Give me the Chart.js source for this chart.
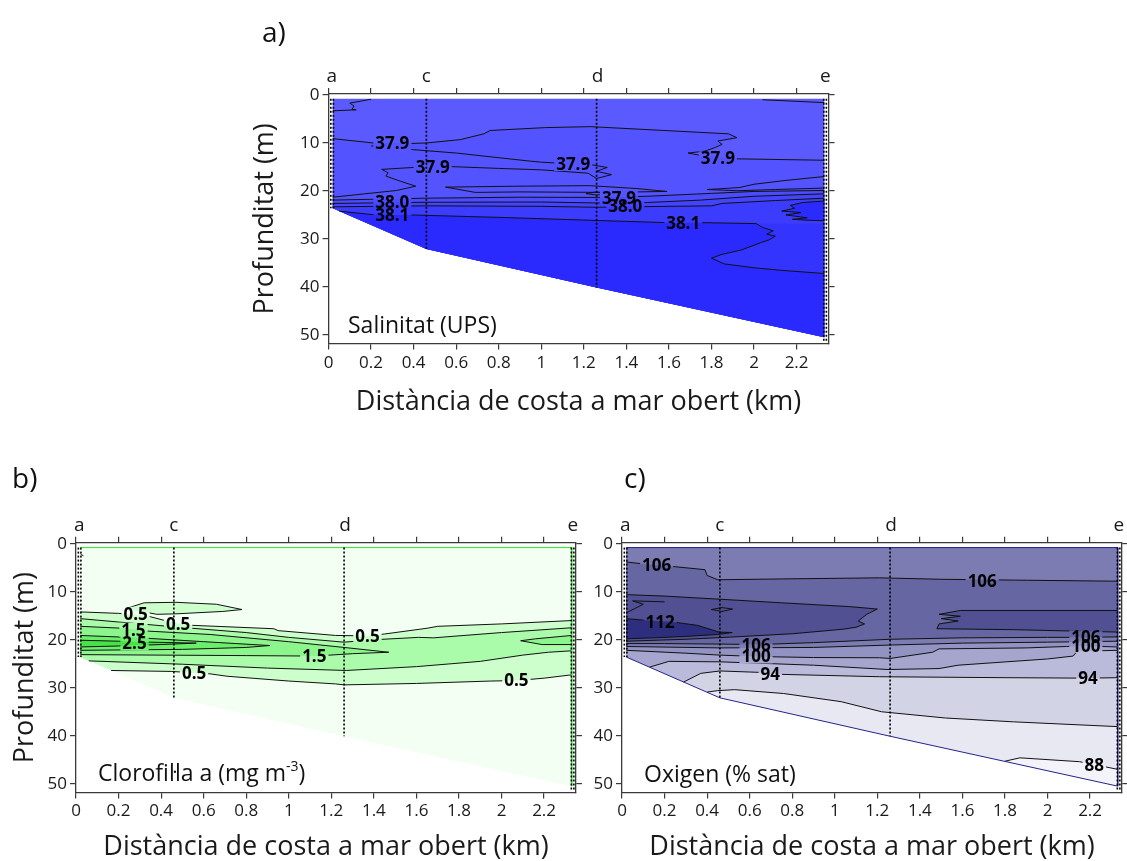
<!DOCTYPE html>
<html lang="ca">
<head>
<meta charset="utf-8">
<title>Seccions de costa a mar obert</title>
<script src="https://cdn.jsdelivr.net/npm/chart.js@4.4.1/dist/chart.umd.min.js"></script>
<style>
  html, body { margin: 0; padding: 0; background: #fff; }
  body { width: 1127px; height: 861px; position: relative; overflow: hidden; font-family: 'Open Sans', sans-serif; color: #111; }
  canvas { position: absolute; }
  .lletra { position: absolute; font-size: 28px; line-height: 28px; z-index: 2; }
  .variable { position: absolute; font-size: 23px; line-height: 23px; white-space: nowrap; z-index: 2; }
  .variable sup { font-size: 14px; line-height: 0; vertical-align: 10px; }
</style>
</head>
<body>
<canvas id="gSal" width="620" height="390" style="left:230px; top:41px"></canvas>
<canvas id="gClo" width="590" height="373" style="left:0px; top:488px"></canvas>
<canvas id="gOxi" width="547" height="373" style="left:580px; top:488px"></canvas>

<div class="lletra" style="left:262px; top:17px">a)</div>
<div class="lletra" style="left:12px; top:463px">b)</div>
<div class="lletra" style="left:624px; top:463px">c)</div>
<div class="variable" style="left:348px; top:313px">Salinitat (UPS)</div>
<div class="variable" style="left:98px; top:761px">Clorofil·la a (mg m<sup>-3</sup>)</div>
<div class="variable" style="left:644px; top:762px">Oxigen (% sat)</div>

<script>
// --- eixos ---
const xTicks = [0, 0.2, 0.4, 0.6, 0.8, 1, 1.2, 1.4, 1.6, 1.8, 2, 2.2];
const yTicks = [0, 10, 20, 30, 40, 50];
const xMax = 2.35, yMin = -0.2, yMax = 51.8;
const estacions = ['a', 'c', 'd', 'e'];
const estacionsX = [0.015, 0.46, 1.265, 2.335];

// --- perfils (CTD) i fons marí ---
const perfilsX = [0.011, 0.023, 0.46, 1.26, 2.328, 2.34];
const perfilsFons = [23.6, 23.6, 32.1, 40.1, 51.6, 51.6];
const fonsX = [0.02, 0.46, 1.26, 2.33];
const fonsProf = [23.6, 32.1, 40.1, 50.5];
const superficie = 0.8;

// --- salinitat: isolínies [distància km, profunditat m] ---
const sal_a1 = [[0.20,0.9],[0.10,1.7],[0.12,2.3],[0.11,3.0],[0.13,3.1],[0.02,3.3]];
const sal_a2 = [[2.04,1.0],[2.33,1.6]];
const sal_379a = [[0.02,9.1],[0.21,10.0],[0.39,10.1],[0.46,10.0],[0.62,9.3],[0.73,8.1],[0.76,7.4],[1.02,6.8],[1.23,6.6],[1.88,8.1],[1.92,8.9],[1.83,9.6],[1.85,10.3],[1.82,10.9],[1.77,11.7],[1.69,12.1],[1.75,12.6],[1.91,13.3],[2.33,13.6]];
const sal_379b = [[0.20,10.6],[0.40,11.4],[0.60,12.1],[0.95,13.8],[1.00,14.0],[1.16,14.4],[1.23,14.5],[1.31,15.1],[1.26,15.9],[1.33,16.6],[1.26,17.4],[1.22,16.3],[1.00,15.6],[0.80,15.3],[0.56,14.9],[0.40,15.1],[0.25,15.5],[0.28,16.2],[0.27,16.9],[0.34,18.0],[0.41,19.0],[0.32,19.9],[0.17,20.6],[0.02,21.3]];
const sal_379c = [[0.55,19.2],[0.90,19.0],[1.23,18.9],[1.45,19.5],[1.59,20.1],[1.30,20.3],[0.90,20.2],[0.69,20.3],[0.55,19.2]];
const sal_379d = [[1.21,20.55],[1.26,20.2],[1.31,20.55],[1.26,20.85],[1.21,20.55]];
const sal_379e = [[2.33,17.0],[2.15,17.8],[2.00,18.6],[1.93,19.3],[1.78,19.7],[1.92,19.95],[2.10,19.7],[2.33,19.4]];
const sal_379f = [[0.02,21.9],[0.46,21.5],[0.90,21.3],[1.26,21.35],[1.50,21.1],[1.80,20.5],[2.00,20.1],[2.33,19.9]];
const sal_380a = [[0.02,22.6],[0.46,22.35],[1.00,22.3],[1.26,22.5],[1.50,22.4],[1.75,21.9],[2.00,21.1],[2.33,20.6]];
const sal_380b = [[0.02,23.3],[0.46,23.1],[1.00,23.2],[1.26,23.4],[1.60,23.2],[1.80,23.1],[1.85,22.6],[2.10,22.0],[2.33,21.5]];
const sal_381a = [[0.05,24.2],[0.20,24.9],[0.39,25.0],[0.80,25.5],[1.23,26.1],[1.59,26.6],[1.76,26.6],[2.01,26.8],[2.04,27.6],[2.09,28.3],[2.06,29.0],[2.10,29.4],[2.07,30.2],[2.03,30.8],[1.94,32.3],[1.85,33.2],[1.80,34.0],[1.86,35.2],[2.00,36.0],[2.12,36.5],[2.33,37.2]];
const sal_381b = [[2.33,22.1],[2.23,22.4],[2.17,23.0],[2.19,23.6],[2.13,24.2],[2.22,24.5],[2.15,25.0],[2.25,25.6],[2.18,25.9],[2.25,26.1],[2.33,26.2]];
const salEtiq = ['37.9', '37.9', '37.9', '37.9', '37.9', '38.0', '38.0', '38.1', '38.1'];
const salEtiqX = [0.30, 0.49, 1.15, 1.83, 1.365, 0.30, 1.395, 0.30, 1.667];
const salEtiqProf = [10.0, 15.0, 14.4, 13.2, 21.4, 22.4, 23.1, 24.95, 26.8];

// --- clorofil·la a ---
const clo_05a = [[0.02,14.2],[0.20,14.5],[0.34,15.1],[0.41,15.9],[0.48,16.6],[0.55,17.0],[0.93,17.7],[0.95,18.1],[1.22,19.1],[1.37,19.2],[1.45,18.8],[1.65,17.6],[1.70,17.2],[2.00,16.7],[2.33,16.0]];
const clo_05b = [[0.235,13.5],[0.32,12.3],[0.47,12.2],[0.66,12.6],[0.78,13.7],[0.69,14.1],[0.47,14.6],[0.38,14.7],[0.235,13.5]];
const clo_05c = [[0.165,26.4],[0.45,26.6],[0.63,27.1],[0.71,27.6],[1.00,28.6],[1.22,29.2],[1.26,29.4],[1.60,29.1],[1.95,28.6],[2.07,28.5],[2.20,28.0],[2.33,27.3]];
const clo_10a = [[0.02,15.6],[0.20,16.3],[0.46,17.3],[0.80,18.5],[1.00,19.5],[1.26,20.5],[1.40,20.0],[1.61,19.5],[1.68,19.6],[2.00,18.5],[2.33,17.5]];
const clo_10b = [[0.06,24.4],[0.50,25.1],[0.90,25.9],[1.27,26.4],[1.60,25.6],[1.90,24.5],[2.10,23.2],[2.22,22.6],[2.33,22.3]];
const clo_15a = [[0.02,17.2],[0.22,17.6],[0.34,18.2],[0.63,18.9],[1.00,20.4],[1.26,21.6],[1.47,22.6],[1.30,22.9],[1.12,23.4],[0.80,23.3],[0.40,23.2],[0.02,23.1]];
const clo_15b = [[2.33,19.1],[2.16,19.8],[2.09,20.2],[2.19,21.0],[2.33,21.0]];
const clo_20 = [[0.02,19.1],[0.30,19.6],[0.60,20.4],[0.91,21.2],[0.80,21.6],[0.50,22.0],[0.02,22.2]];
const clo_25 = [[0.02,20.1],[0.20,20.3],[0.35,20.5],[0.565,20.7],[0.40,21.0],[0.20,21.3],[0.02,21.5]];
const clo_taca = [[0.022,2.2],[0.035,2.5]];
const cloEtiq = ['0.5', '0.5', '0.5', '1.5', '2.5', '1.5', '0.5', '0.5'];
const cloEtiqX = [0.28, 0.48, 1.37, 0.27, 0.275, 1.12, 0.555, 2.07];
const cloEtiqProf = [14.6, 16.7, 19.2, 17.9, 20.8, 23.4, 26.9, 28.5];

// --- oxigen (% saturació) ---
const oxi_106a = [[0.02,3.8],[0.10,4.2],[0.23,4.7],[0.39,5.4],[0.40,6.6],[0.45,7.5],[0.80,7.3],[1.21,7.1],[1.50,7.4],[1.90,7.6],[2.33,7.8]];
const oxi_109a = [[0.02,10.6],[0.20,10.9],[0.44,11.5],[0.75,12.3],[1.07,13.1],[1.20,13.6],[1.15,14.7],[1.13,15.4],[1.11,16.1],[1.14,16.7],[1.10,17.4],[1.04,17.8],[0.80,18.75],[0.51,19.45],[0.30,19.9],[0.02,20.3]];
const oxi_109b = [[2.33,13.9],[1.59,13.9],[1.49,14.7],[1.59,15.1],[1.50,15.6],[1.58,16.1],[1.49,16.7],[1.48,17.7],[1.84,17.9],[2.33,18.4]];
const oxi_109c = [[0.20,12.1],[0.05,11.9],[0.10,12.6],[0.06,13.5],[0.02,14.4]];
const oxi_109d = [[0.42,13.7],[0.47,13.3],[0.52,13.6],[0.47,14.1],[0.42,13.7]];
const oxi_112 = [[0.02,15.6],[0.10,15.9],[0.24,16.3],[0.355,17.0],[0.456,18.4],[0.518,18.5],[0.45,18.9],[0.30,19.3],[0.15,19.6],[0.02,19.8]];
const oxi_106b = [[0.02,20.8],[0.20,20.8],[0.46,20.9],[0.64,21.0],[0.90,20.6],[1.26,19.9],[1.60,19.6],[2.00,19.5],[2.18,19.5],[2.33,19.4]];
const oxi_103 = [[0.02,21.4],[0.46,21.7],[0.90,21.6],[1.26,21.1],[1.60,20.7],[2.00,20.5],[2.33,20.3]];
const oxi_100 = [[0.02,22.2],[0.30,22.8],[0.46,23.2],[0.64,23.5],[0.90,23.7],[1.21,23.75],[1.26,23.9],[1.46,22.6],[1.49,21.9],[1.90,21.7],[2.09,21.4],[2.18,21.3],[2.33,21.5]];
const oxi_097 = [[0.13,25.7],[0.22,24.5],[0.46,24.6],[0.90,25.3],[1.25,26.2],[1.49,26.0],[1.58,25.3],[2.00,24.0],[2.12,23.4],[2.14,22.4],[2.33,22.2]];
const oxi_094 = [[0.29,28.8],[0.37,27.0],[0.46,26.5],[0.65,26.8],[0.74,27.2],[1.21,27.7],[1.80,27.9],[2.19,28.0],[2.33,27.9]];
const oxi_091 = [[0.40,30.9],[0.45,30.6],[0.53,30.4],[0.76,31.2],[1.03,32.9],[1.22,35.0],[1.52,36.3],[1.84,37.1],[2.33,38.1]];
const oxi_088 = [[1.80,45.3],[1.87,44.6],[2.15,45.4],[2.22,46.0],[2.33,47.0]];
const oxiEtiq = ['106', '106', '112', '106', '100', '94', '106', '100', '94', '88'];
const oxiEtiqX = [0.163, 1.693, 0.179, 0.63, 0.63, 0.697, 2.18, 2.18, 2.19, 2.22];
const oxiEtiqProf = [4.4, 7.7, 16.3, 21.1, 23.5, 27.1, 19.5, 21.3, 28.0, 46.1];

// ---------------------------------------------------------------
Chart.defaults.font.family = "'Open Sans', sans-serif";
Chart.defaults.color = '#1a1a1a';
Chart.defaults.animation = false;

const fontEtiq = "bold 17px 'Open Sans', sans-serif";
const pts = a => a.map(([x, y]) => ({x, y}));
const fons = fonsX.map((x, i) => [x, fonsProf[i]]);
const regio = [[fonsX[0], superficie], [fonsX[3], superficie]].concat(fons.slice().reverse());
// polígons a partir de les isolínies
const entre = (a, b) => a.concat(b.slice().reverse());
const entreFons = (a, b) => a.concat(b.slice().reverse(), fons.filter(p => p[0] < b[0][0]).reverse());
const sota = l => l.concat(fons.filter(p => p[0] >= l[0][0]).reverse());
const sobre = l => [[fonsX[0], superficie], [fonsX[3], superficie]].concat(l.slice().reverse(), fons.filter(p => p[0] < l[0][0]).reverse());
const vora = [[fonsX[0], superficie], [fonsX[3], superficie], [fonsX[3], fonsProf[3]]];

// omple cada polígon amb les posicions calculades per Chart.js
const polyFill = {
  id: 'polyFill',
  beforeDatasetDraw(chart, args) {
    const ds = chart.data.datasets[args.index];
    if (!ds.colorFons) return;
    const ctx = chart.ctx;
    ctx.save();
    ctx.beginPath();
    args.meta.data.forEach((p, i) => i ? ctx.lineTo(p.x, p.y) : ctx.moveTo(p.x, p.y));
    ctx.closePath();
    ctx.fillStyle = ds.colorFons;
    ctx.fill();
    ctx.restore();
  }
};

// etiquetes de les isolínies, amb un tall a la línia
function pluginEtiquetes(textos, xs, ys) {
  const caixes = chart => {
    const ctx = chart.ctx;
    ctx.font = fontEtiq;
    return textos.map((t, i) => ({
      t,
      w: ctx.measureText(t).width + 4,
      cx: chart.scales.x.getPixelForValue(xs[i]),
      cy: chart.scales.y.getPixelForValue(ys[i])
    }));
  };
  return {
    id: 'etiquetes',
    beforeDatasetDraw(chart, args) {
      if (!chart.data.datasets[args.index].isolinia) return;
      const ctx = chart.ctx;
      ctx.save();
      caixes(chart).forEach(c => {
        ctx.beginPath();
        ctx.rect(0, 0, chart.width, chart.height);
        ctx.rect(c.cx - c.w / 2, c.cy - 7, c.w, 14);
        ctx.clip('evenodd');
      });
    },
    afterDatasetDraw(chart, args) {
      if (chart.data.datasets[args.index].isolinia) chart.ctx.restore();
    },
    afterDatasetsDraw(chart) {
      const ctx = chart.ctx;
      ctx.save();
      const cs = caixes(chart);
      ctx.fillStyle = '#000';
      ctx.textAlign = 'center';
      ctx.textBaseline = 'middle';
      cs.forEach(c => ctx.fillText(c.t, c.cx, c.cy + 1));
      ctx.restore();
    }
  };
}

function escales(m) {
  const eix = '#3a3a3a';
  const tick = {drawOnChartArea: false, tickLength: 6, color: eix, lineWidth: 1.2};
  return {
    x: {
      type: 'linear', position: 'bottom', min: 0, max: xMax,
      afterBuildTicks: s => { s.ticks = xTicks.map(v => ({value: v})); },
      afterFit: s => { s.height = m.baix; },
      ticks: {font: {size: 17}, padding: 3, maxRotation: 0, autoSkip: false, callback: v => String(v)},
      grid: tick,
      border: {color: eix, width: 1.3},
      title: {display: true, text: 'Distància de costa a mar obert (km)', font: {size: 27, lineHeight: 1}, padding: {top: 0, bottom: m.titolX}}
    },
    x2: {
      type: 'linear', axis: 'x', position: 'top', min: 0, max: xMax,
      afterBuildTicks: s => { s.ticks = xTicks.concat(estacionsX).map(v => ({value: v})); },
      afterFit: s => { s.height = m.dalt; },
      ticks: {font: {size: 19}, padding: 0, maxRotation: 0, autoSkip: false,
        callback: v => { const i = estacionsX.indexOf(v); return i >= 0 ? estacions[i] : ''; }},
      grid: {...tick, tickColor: c => (c.tick && estacionsX.includes(c.tick.value)) ? 'rgba(0,0,0,0)' : eix},
      border: {color: eix, width: 1.3}
    },
    y: {
      type: 'linear', position: 'left', reverse: true, min: yMin, max: yMax,
      afterBuildTicks: s => { s.ticks = yTicks.map(v => ({value: v})); },
      afterFit: s => { s.width = m.esq; },
      ticks: {font: {size: 17}, padding: 3},
      grid: tick,
      border: {color: eix, width: 1.3},
      title: {display: m.titolY !== null, text: 'Profunditat (m)', font: {size: 27, lineHeight: 1}, padding: {top: m.titolY || 0, bottom: 0}}
    },
    y2: {
      type: 'linear', axis: 'y', position: 'right', reverse: true, min: yMin, max: yMax,
      afterBuildTicks: s => { s.ticks = yTicks.map(v => ({value: v})); },
      afterFit: s => { s.width = m.dre; },
      ticks: {callback: () => ''},
      grid: tick,
      border: {color: eix, width: 1.3}
    }
  };
}

function crearGrafic(id, m, capes, linies, vores, etiq) {
  const datasets = [];
  capes.forEach(([pol, color], k) => datasets.push({
    data: pts(pol), colorFons: color, showLine: false, pointRadius: 0, order: 1000 - k
  }));
  linies.forEach(l => datasets.push({
    data: pts(l), isolinia: true, borderColor: '#111', borderWidth: 1, pointRadius: 0, order: 3
  }));
  vores.forEach(([l, color]) => datasets.push({
    data: pts(l), borderColor: color, borderWidth: 1, pointRadius: 0, order: 2
  }));
  perfilsX.forEach((x, i) => datasets.push({
    data: pts([[x, superficie], [x, perfilsFons[i]]]),
    borderColor: '#000', borderWidth: 1.6, borderDash: [2, 2], pointRadius: 0, order: 1
  }));
  return new Chart(document.getElementById(id), {
    type: 'line',
    data: {datasets},
    options: {
      responsive: false,
      events: [],
      layout: {padding: 0},
      plugins: {legend: {display: false}, tooltip: {enabled: false}},
      scales: escales(m)
    },
    plugins: [polyFill, pluginEtiquetes(...etiq)]
  });
}

// a) salinitat
crearGrafic('gSal',
  {esq: 98.5, dre: 21.5, dalt: 53, baix: 87.4, titolY: 21.5, titolX: 15.5},
  [
    [regio, '#5A5AFF'],
    [entre(sal_379a, sal_379f), '#5353FF'],
    [sota(sal_379f), '#4B4BFF'],
    [sota(sal_380a), '#4444FF'],
    [sota(sal_380b), '#3C3CFF'],
    [sota(sal_381a), '#2A2AFF'],
    [[[fonsX[3], sal_381a[7][1]]].concat(sal_381a.slice(7)), '#3434FF'],
    [sal_381b, '#2B2BFF']
  ],
  [sal_a1, sal_a2, sal_379a, sal_379b, sal_379c, sal_379d, sal_379e, sal_379f, sal_380a, sal_380b, sal_381a, sal_381b],
  [],
  [salEtiq, salEtiqX, salEtiqProf]
);

// b) clorofil·la
crearGrafic('gClo',
  {esq: 76, dre: 14, dalt: 54.8, baix: 68.6, titolY: 11.5, titolX: 0.5},
  [
    [regio, '#F2FFF2'],
    [entreFons(clo_05a, clo_05c), '#CCFFCC'],
    [clo_05b, '#CCFFCC'],
    [entreFons(clo_10a, clo_10b), '#AAFBAA'],
    [clo_15a, '#8CF58C'],
    [clo_15b, '#8CF58C'],
    [clo_20, '#6BEF6B'],
    [clo_25, '#46E346']
  ],
  [clo_05a, clo_05b, clo_05c, clo_10a, clo_10b, clo_15a, clo_15b, clo_20, clo_25, clo_taca],
  [[vora, '#22EE22']],
  [cloEtiq, cloEtiqX, cloEtiqProf]
);

// c) oxigen
crearGrafic('gOxi',
  {esq: 42, dre: 5, dalt: 54.8, baix: 68.6, titolY: null, titolX: 0.5},
  [
    [regio, '#E8E8F2'],
    [sobre(oxi_091), '#D3D3E6'],
    [sobre(oxi_094), '#BABADA'],
    [sobre(oxi_097), '#A5A5CE'],
    [sobre(oxi_100), '#9292C3'],
    [sobre(oxi_103), '#7C7CB2'],
    [entre(oxi_106a, oxi_106b), '#6666A2'],
    [oxi_109a, '#505092'],
    [oxi_109b, '#505092'],
    [oxi_112, '#2E2E7E'],
    [sota(oxi_088), '#F3F3F9']
  ],
  [oxi_106a, oxi_109a, oxi_109b, oxi_109c, oxi_109d, oxi_112, oxi_106b, oxi_103, oxi_100, oxi_097, oxi_094, oxi_091, oxi_088],
  [[vora, '#23238C'], [fons, '#23238C']],
  [oxiEtiq, oxiEtiqX, oxiEtiqProf]
);
</script>
</body>
</html>
